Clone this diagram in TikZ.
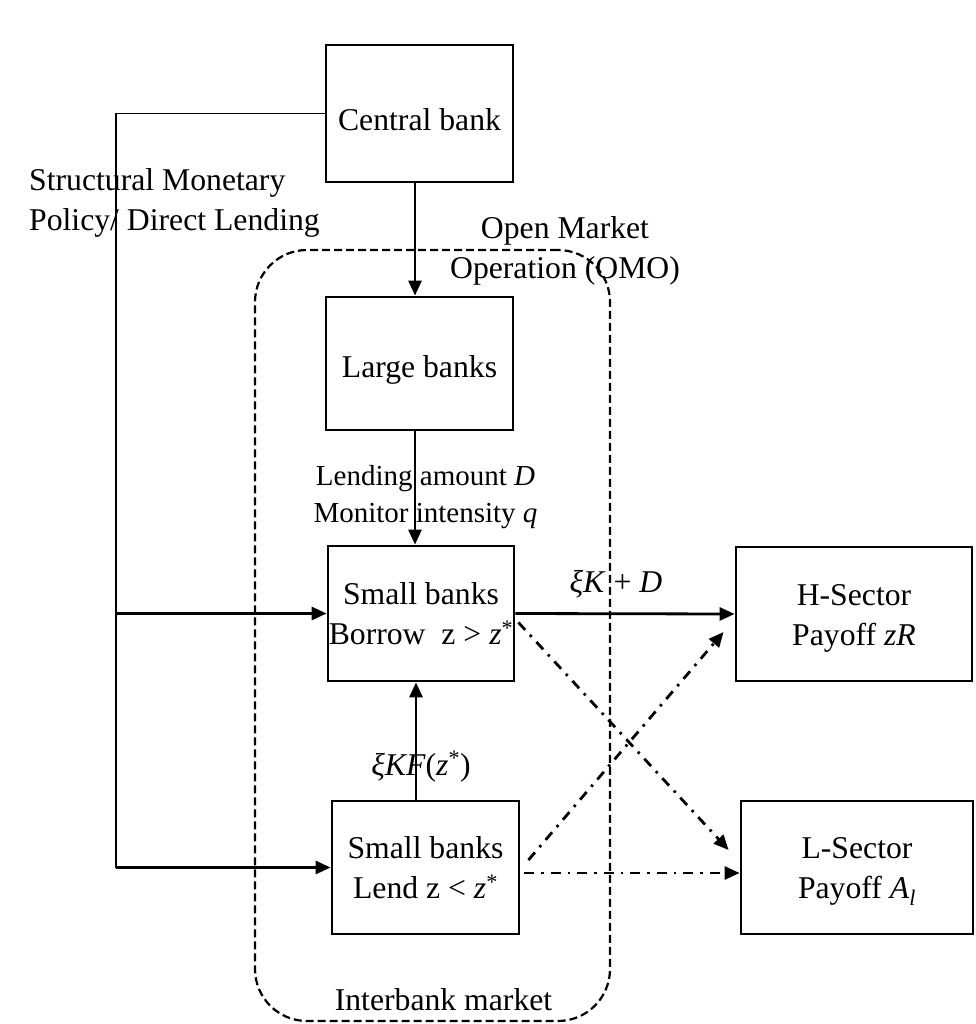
\documentclass[tikz,border=0pt]{standalone}
\usepackage{fontspec}
\setmainfont{Liberation Serif}
\usetikzlibrary{arrows.meta}
\begin{document}
\begin{tikzpicture}[x=1pt,y=-1pt,
  box/.style={draw, line width=2.8pt, inner sep=0pt, align=center, font=\fontsize{31.7}{40}\selectfont},
  lbl/.style={inner sep=0pt, font=\fontsize{31.7}{40}\selectfont},
  smalllbl/.style={inner sep=0pt, font=\fontsize{29}{37}\selectfont},
  arr/.style={line width=2.8pt, -{Triangle[length=15pt,width=13pt]}},
  dd/.style={arr, dash pattern=on 10pt off 7pt on 2.5pt off 7pt},
  thinline/.style={line width=1.2pt},
  ibox/.style={draw, line width=2.2pt, dash pattern=on 8pt off 4pt, rounded corners=52pt, inner sep=0pt}
]
\useasboundingbox (0,0) rectangle (975,1024);

% dashed interbank market region
\node[ibox, minimum width=355pt, minimum height=771pt] (ib) at (432.5,635.5) {};

% boxes
\node[box, minimum width=187pt, minimum height=137pt] (cb) at (419.5,113.5) {\rule{0pt}{35pt}Central bank};
\node[box, minimum width=187pt, minimum height=133pt] (lb) at (419.5,363.5) {\rule{0pt}{34pt}Large banks};
\node[box, minimum width=186pt, minimum height=135pt] (sb) at (421,613.5) {Small banks\\Borrow~ z > \textit{z}\textsuperscript{*}};
\node[box, minimum width=187pt, minimum height=133pt] (lend) at (425.5,867.5) {Small banks\\Lend z < \textit{z}\textsuperscript{*}};
\node[box, minimum width=236pt, minimum height=134pt] (H) at (854,614) {\rule{0pt}{29pt}H-Sector\\Payoff \textit{zR}};
\node[box, minimum width=232pt, minimum height=133pt] (L) at (857,867.5) {\rule{0pt}{29pt}L-Sector\\Payoff \textit{A}\textsubscript{\textit{l}}};

% labels
\node[lbl, anchor=north west, align=left] (smp) at (29,165) {\rule{0pt}{25pt}Structural Monetary\\Policy/ Direct Lending};
\node[lbl, anchor=north, align=center] (omo) at (565,213) {\rule{0pt}{25pt}Open Market\\Operation (OMO)};
\node[smalllbl, anchor=north, align=center] (ld) at (425.5,460) {\rule{0pt}{25pt}Lending amount \textit{D}\\Monitor intensity \textit{q}};
\node[lbl, anchor=base] (xkd) at (616,592) {\textit{ξK} + \textit{D}};
\node[lbl, anchor=base] (xkf) at (421,775) {\textit{ξKF}(\textit{z}\textsuperscript{*})};
\node[lbl, anchor=base] (ibl) at (443.5,1010) {Interbank market};

% connectors
\coordinate (lc) at (116,113.5);
\draw[thinline] (cb.west) -- (lc) -- (lc |- lend.west);
\draw[arr] (lc |- sb.west) -- (sb.west);
\draw[arr] (lc |- lend.west) -- (lend.west);
\draw[arr] ([shift={(-4.5,0)}]cb.south) -- ([shift={(-4.5,0)}]lb.north);
\draw[arr] ([shift={(-4.5,0)}]lb.south) -- ([shift={(-6,0)}]sb.north);
\draw[arr] ([shift={(-9.5,0)}]lend.north) -- ([shift={(-5,0)}]sb.south);
\draw[arr] (sb.east) -- (H.west);
\draw[dd] ([shift={(3,9)}]sb.east) -- ([shift={(-11,-17.5)}]L.west);
\draw[dd] ([shift={(8,-7.5)}]lend.east) -- ([shift={(-11,18)}]H.west);
\draw[dd] ([shift={(4,5.5)}]lend.east) -- ([shift={(0,5.5)}]L.west);
\end{tikzpicture}
\end{document}
